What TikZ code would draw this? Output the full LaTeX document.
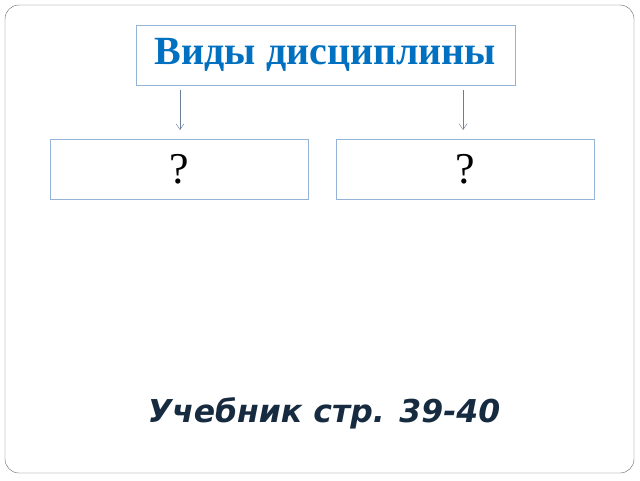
\documentclass[tikz,border=0pt]{standalone}
\usepackage{fontspec}
\setmainfont{Liberation Serif}
\newfontfamily\bodysans{DejaVu Sans}
\usetikzlibrary{positioning, arrows.meta}
\definecolor{frame}{RGB}{100, 100, 100}
\definecolor{boxline}{RGB}{149, 179, 215}
\definecolor{titleblue}{RGB}{0, 112, 192}
\definecolor{navy}{RGB}{23, 43, 64}
\begin{document}
\begin{tikzpicture}[x=1pt, y=-1pt,
            topic/.style={draw=boxline, thick, minimum width=379pt, minimum height=60pt, font=\fontsize{40}{44}\selectfont\bfseries, text=titleblue},
            answer/.style={draw=boxline, thick, minimum width=258pt, minimum height=60pt, font=\fontsize{44}{48}\selectfont}
        ]
            \useasboundingbox (0,0) rectangle (640,480);
            \draw[frame, fill=white, rounded corners=14pt] (5,5) rectangle (634,473);
            \node (kinds) [topic] at (325.5,55) {Виды дисциплины};
            \node (left) [answer] at (179,169) {?};
            \node (right) [answer] at (465,169) {?};
            \coordinate (lstart) at (180,90);
            \coordinate (lend) at (180,130);
            \coordinate (rstart) at (463,90);
            \coordinate (rend) at (463,130);

            \draw[-{Straight Barb[length=6pt, width=8pt]}, boxline!70!black] (lstart) -- (lend);
            \draw[-{Straight Barb[length=6pt, width=8pt]}, boxline!70!black] (rstart) -- (rend);
            \node (book) [font=\bodysans\fontsize{31.5}{36}\selectfont\bfseries\itshape, text=navy] at (324,413) {Учебник стр. 39-40};
        \end{tikzpicture}
\end{document}
